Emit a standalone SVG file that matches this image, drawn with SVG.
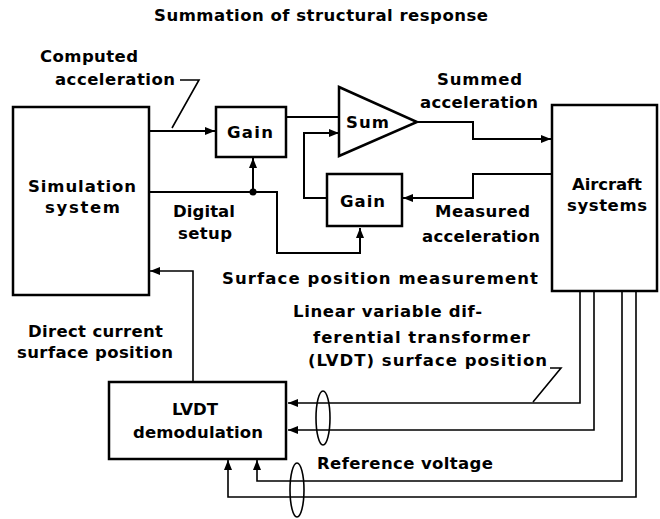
<svg xmlns="http://www.w3.org/2000/svg" width="660" height="519" viewBox="0 0 660 519">
<defs>
<style>
text{font-family:"DejaVu Sans","Liberation Sans",sans-serif;font-weight:bold;font-size:16.5px;fill:#000}
.box{fill:#fff;stroke:#000;stroke-width:2.5}
.ln{fill:none;stroke:#000;stroke-width:2}
.thin{fill:none;stroke:#000;stroke-width:1.6}
.arr{marker-end:url(#ah)}
</style>
<marker id="ah" viewBox="0 0 10 8" refX="10" refY="4" markerWidth="11" markerHeight="8" markerUnits="userSpaceOnUse" orient="auto">
<path d="M0,0 L10,4 L0,8 Z" fill="#000"/>
</marker>
</defs>
<rect width="660" height="519" fill="#fff"/>
<text x="154" y="21" textLength="334" lengthAdjust="spacing">Summation of structural response</text>
<g id="connectors">
<path class="ln arr" d="M149,131 H215"/>
<path class="ln" d="M286,117 H339"/>
<path class="ln arr" d="M417,122 H473 V139 H551"/>
<path class="ln arr" d="M552,174 H473 V198 H403"/>
<path class="ln arr" d="M327,198 H304 V133 H339"/>
<path class="ln arr" d="M149,192 H277 V253 H360 V228"/>
<path class="ln arr" d="M253,192 V158"/>
<circle cx="253" cy="192" r="3.5" fill="#000"/>
<path class="thin arr" d="M193,382 V271 H150"/>
<path class="thin arr" d="M580,291 V403 H288"/>
<path class="thin arr" d="M594,291 V430 H288"/>
<path class="thin arr" d="M622,291 V481 H257 V460"/>
<path class="thin arr" d="M636,291 V497 H228 V460"/>
<ellipse cx="323" cy="418" rx="7" ry="27" class="thin"/>
<ellipse cx="297" cy="490" rx="7" ry="27" class="thin"/>
<path class="thin" d="M180,80 H199 L172,128"/>
<path class="thin" d="M550,368 H561 L533,402"/>
</g>
<g id="simulation">
<rect class="box" x="13" y="107" width="136" height="188"/>
<text x="28" y="192" textLength="108" lengthAdjust="spacing">Simulation</text>
<text x="45" y="213" textLength="75" lengthAdjust="spacing">system</text>
</g>
<g id="gain1">
<rect class="box" x="216" y="107" width="70" height="50"/>
<text x="227" y="138" textLength="46" lengthAdjust="spacing">Gain</text>
</g>
<g id="sum">
<path class="box" d="M339,87 L417,122 L339,156 Z"/>
<text x="346" y="128" textLength="43" lengthAdjust="spacing">Sum</text>
</g>
<g id="gain2">
<rect class="box" x="327" y="174" width="75" height="52"/>
<text x="340" y="207" textLength="45" lengthAdjust="spacing">Gain</text>
</g>
<g id="aircraft">
<rect class="box" x="552" y="105" width="105" height="186"/>
<text x="572" y="190" textLength="70" lengthAdjust="spacing">Aircraft</text>
<text x="567" y="211" textLength="80" lengthAdjust="spacing">systems</text>
</g>
<g id="lvdt">
<rect class="box" x="109" y="382" width="177" height="77"/>
<text x="172" y="415" textLength="46" lengthAdjust="spacing">LVDT</text>
<text x="133" y="438" textLength="130" lengthAdjust="spacing">demodulation</text>
</g>
<g id="labels">
<text x="40" y="62" textLength="98" lengthAdjust="spacing">Computed</text>
<text x="55" y="85" textLength="120" lengthAdjust="spacing">acceleration</text>
<text x="437" y="85" textLength="85" lengthAdjust="spacing">Summed</text>
<text x="420" y="108" textLength="118" lengthAdjust="spacing">acceleration</text>
<text x="435" y="217" textLength="95" lengthAdjust="spacing">Measured</text>
<text x="422" y="242" textLength="118" lengthAdjust="spacing">acceleration</text>
<text x="173" y="217" textLength="62" lengthAdjust="spacing">Digital</text>
<text x="178" y="239" textLength="54" lengthAdjust="spacing">setup</text>
<text x="222" y="284" textLength="316" lengthAdjust="spacing">Surface position measurement</text>
<text x="28" y="337" textLength="135" lengthAdjust="spacing">Direct current</text>
<text x="17" y="358" textLength="156" lengthAdjust="spacing">surface position</text>
<text x="293" y="317" textLength="189" lengthAdjust="spacing">Linear variable dif-</text>
<text x="313" y="343" textLength="217" lengthAdjust="spacing">ferential transformer</text>
<text x="308" y="366" textLength="239" lengthAdjust="spacing">(LVDT) surface position</text>
<text x="317" y="469" textLength="176" lengthAdjust="spacing">Reference voltage</text>
</g>
</svg>
